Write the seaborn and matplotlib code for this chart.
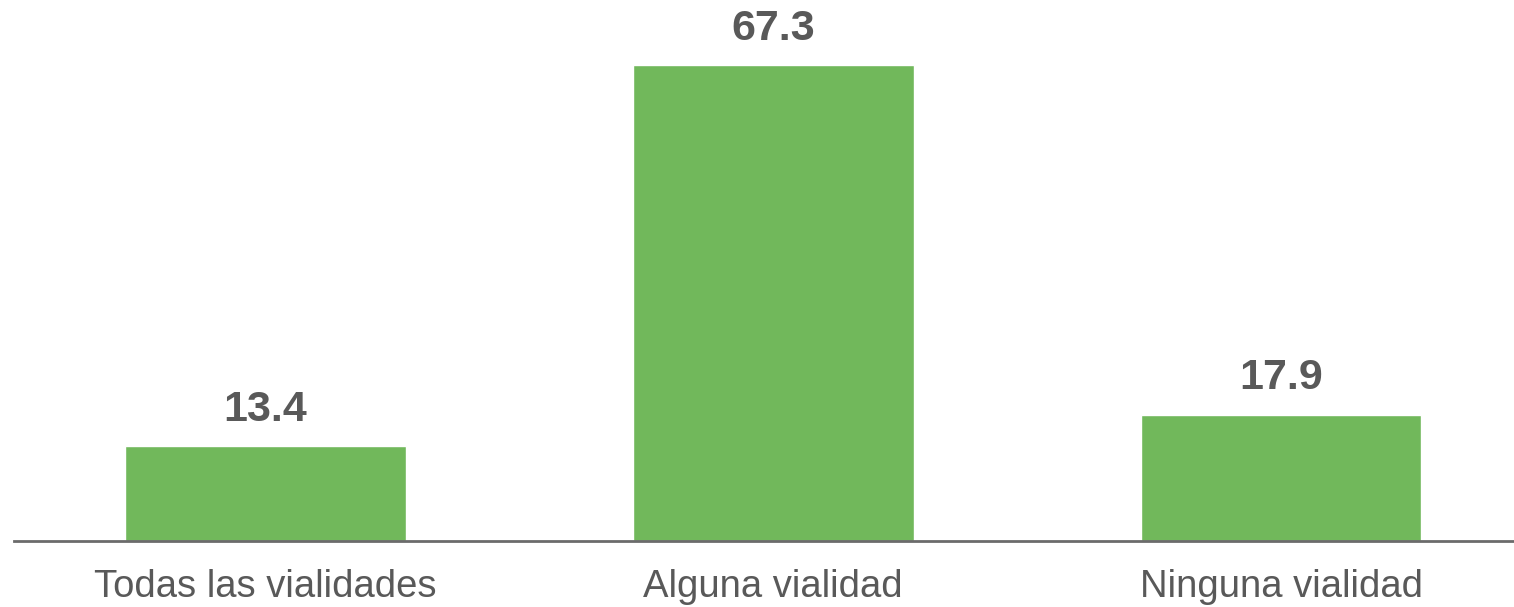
import matplotlib
matplotlib.use("Agg")
import matplotlib.pyplot as plt
import seaborn as sns
import pandas as pd

categorias = ["Todas las vialidades", "Alguna vialidad", "Ninguna vialidad"]
porcentajes = [13.4, 67.3, 17.9]

verde = "#71B85B"
gris = "#595959"

sns.set_style("white")
plt.rcParams["font.family"] = ["Liberation Sans", "DejaVu Sans"]

df = pd.DataFrame({"categoria": categorias, "valor": porcentajes})

fig = plt.figure(figsize=(15.14, 6.07), dpi=100)
# axes runs past the right edge of the figure like the original
ax = fig.add_axes([14 / 1514, 66 / 607, 1521 / 1514, 530 / 607])
sns.barplot(data=df, x="categoria", y="valor", color=verde, width=0.553,
            saturation=1, ax=ax)

ax.set_xlim(-0.495, 2.5)
ax.set_ylim(0, 75)
for p, v in zip(ax.patches, porcentajes):
    ax.annotate(f"{v:.1f}", (p.get_x() + p.get_width() / 2, p.get_height()),
                xytext=(0, 12), textcoords="offset points", ha="center", va="bottom",
                fontsize=31, fontweight="bold", color=gris)

sns.despine(ax=ax, left=True, top=True, right=True)
ax.spines["bottom"].set_color("#6b6b6b")
ax.spines["bottom"].set_linewidth(2)
ax.set_yticks([])
ax.set_xlabel("")
ax.set_ylabel("")
ax.tick_params(axis="x", length=0, pad=20, labelsize=27.5, labelcolor=gris)

fig.savefig("out.png", dpi=100)
